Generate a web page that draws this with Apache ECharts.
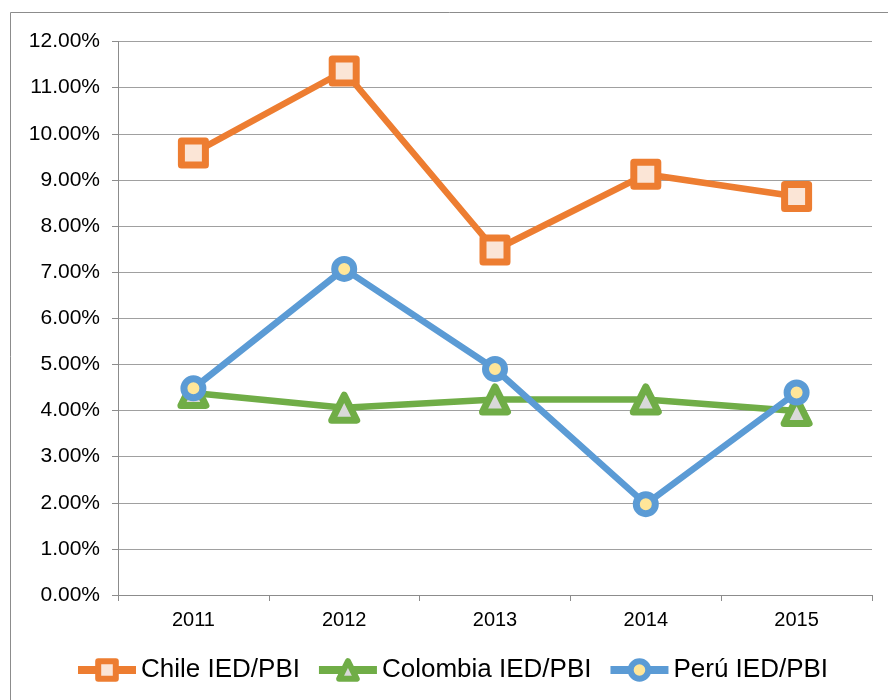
<!DOCTYPE html>
<html>
<head>
<meta charset="utf-8">
<script src="https://cdn.jsdelivr.net/npm/echarts@6/dist/echarts.min.js"></script>
<style>
html,body{margin:0;padding:0;background:#fff;}
#chart{width:888px;height:700px;}
</style>
</head>
<body>
<div id="chart"></div>
<script>
var years = ['2011', '2012', '2013', '2014', '2015'];
var chile = [9.58, 11.36, 7.48, 9.12, 8.64];
var colombia = [4.38, 4.06, 4.24, 4.24, 3.99];
var peru = [4.48, 7.07, 4.90, 1.97, 4.39];
var seriesNames = ['Chile IED/PBI', 'Colombia IED/PBI', 'Perú IED/PBI'];
var yTicks = {min: 0, max: 12, interval: 1};

var font = '"Liberation Sans", Arial, sans-serif';
var chart = echarts.init(document.getElementById('chart'), null, {renderer: 'canvas'});

function mk(name, data, color, fill, symbol, size, bw) {
  return {
    name: name, type: 'line', data: data,
    symbol: symbol, symbolSize: size,
    lineStyle: {color: color, width: 6.5},
    itemStyle: {color: fill, borderColor: color, borderWidth: bw, borderJoin: 'round'},
    emphasis: {disabled: true},
    animation: false
  };
}

chart.setOption({
  animation: false,
  graphic: [{
    type: 'rect', silent: true,
    shape: {x: 10.5, y: 12.5, width: 900, height: 800},
    style: {fill: 'none', stroke: '#8c8c8c', lineWidth: 1}
  }],
  grid: {left: 118, right: 16, top: 41.5, bottom: 105},
  xAxis: {
    type: 'category', data: years, boundaryGap: true,
    axisLine: {lineStyle: {color: '#8c8c8c', width: 1}},
    axisTick: {show: true, length: 6, lineStyle: {color: '#8c8c8c'}},
    axisLabel: {color: '#000', fontSize: 20, fontFamily: font, margin: 15}
  },
  yAxis: {
    type: 'value', min: yTicks.min, max: yTicks.max, interval: yTicks.interval,
    axisLine: {show: true, lineStyle: {color: '#8c8c8c', width: 1}},
    axisTick: {show: true, length: 6, lineStyle: {color: '#8c8c8c'}},
    splitLine: {lineStyle: {color: '#a0a0a0', width: 1}},
    axisLabel: {color: '#000', fontSize: 21, fontFamily: font, margin: 18,
      formatter: function (v) { return v.toFixed(2) + '%'; }}
  },
  legend: {
    data: seriesNames, left: 74, top: 657, padding: 0,
    itemWidth: 58, itemHeight: 22, itemGap: 15,
    lineStyle: {width: 8},
    itemStyle: {borderWidth: 6},
    textStyle: {color: '#000', fontSize: 26, fontFamily: font}
  },
  series: [
    mk(seriesNames[0], chile, '#ed7d31', '#fbe5d6', 'rect', 24, 7),
    mk(seriesNames[1], colombia, '#70ad47', '#d9d9d9', 'triangle', 25, 7),
    mk(seriesNames[2], peru, '#5b9bd5', '#ffe699', 'circle', 19, 7)
  ]
});
</script>
</body>
</html>
